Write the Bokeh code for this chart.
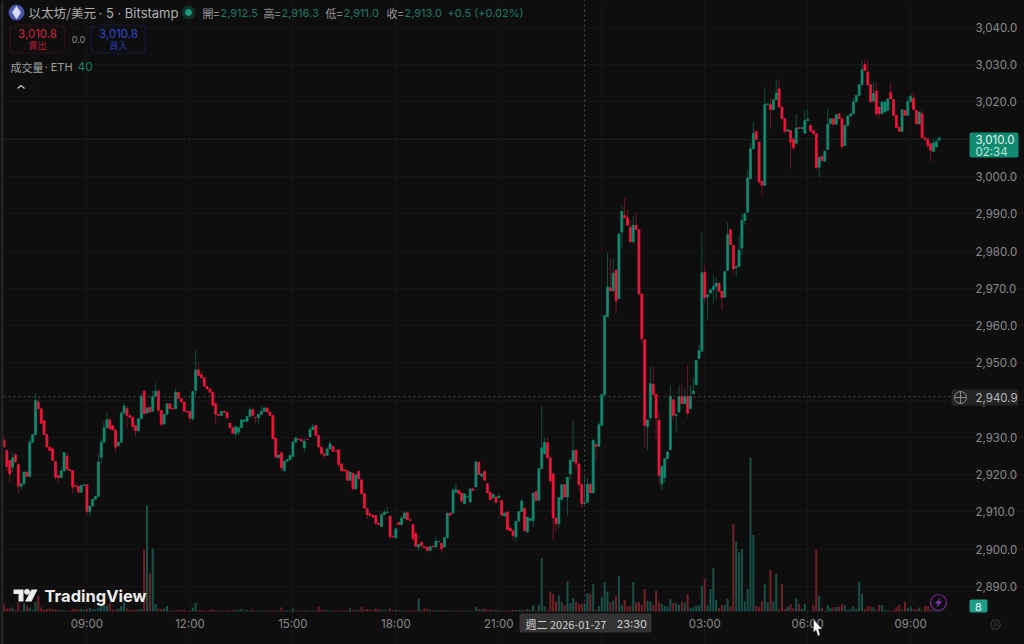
from bokeh.plotting import figure
from bokeh.embed import file_html
from bokeh.resources import INLINE
from bokeh.models import (ColumnDataSource, Range1d, FixedTicker, NumeralTickFormatter, Label,
                          BoxAnnotation, PolyAnnotation)

opens = [2929.2,2926.5,2923.8,2922.0,2925.3,2922.7,2916.9,2917.6,2920.7,2919.5,2928.7,2930.7,2939.5,2937.7,2934.5,2930.7,
2927.4,2926.9,2923.5,2919.8,2919.2,2921.0,2925.0,2921.4,2921.1,2917.1,2916.9,2915.3,2917.1,2917.3,2910.1,2911.6,
2913.4,2914.2,2924.7,2928.7,2932.6,2934.7,2933.2,2932.0,2927.8,2928.7,2936.5,2937.7,2935.9,2935.4,2933.2,2931.7,
2935.0,2942.4,2936.5,2938.1,2937.0,2941.0,2942.4,2937.2,2933.6,2936.2,2939.0,2937.8,2937.7,2942.1,2940.4,2939.5,
2937.0,2937.0,2935.0,2942.6,2948.1,2946.8,2946.0,2943.7,2943.0,2942.1,2939.0,2936.2,2935.9,2937.0,2936.7,2933.8,
2932.6,2931.0,2931.4,2932.6,2934.3,2934.3,2935.6,2937.5,2935.4,2935.3,2936.2,2937.0,2937.9,2936.8,2935.9,2929.8,
2924.5,2925.9,2921.1,2923.6,2924.0,2924.9,2928.7,2929.6,2929.4,2927.2,2929.5,2930.1,2932.1,2933.2,2930.5,2927.4,
2925.6,2925.2,2926.9,2927.6,2926.4,2926.7,2922.9,2921.3,2921.1,2918.5,2920.4,2916.2,2920.9,2918.6,2914.9,2910.9,
2909.5,2909.1,2909.0,2907.0,2906.1,2909.3,2909.8,2908.9,2903.5,2903.0,2907.2,2906.6,2908.3,2909.8,2907.9,2906.6,
2904.3,2900.6,2901.9,2900.7,2900.6,2899.7,2900.8,2900.6,2902.0,2901.6,2900.6,2903.1,2909.7,2909.7,2915.3,2915.8,
2915.1,2912.2,2914.0,2912.7,2916.2,2916.7,2923.4,2919.6,2920.9,2917.6,2915.3,2913.8,2914.0,2913.8,2913.1,2908.9,
2910.0,2905.7,2904.9,2903.3,2907.5,2910.1,2911.0,2904.6,2907.7,2907.7,2915.5,2913.1,2921.6,2925.6,2928.6,2924.5,
2920.2,2908.4,2906.8,2913.3,2917.3,2914.0,2920.2,2923.6,2926.5,2922.9,2917.4,2912.2,2912.6,2917.4,2915.1,2928.1,
2927.6,2933.2,2941.5,2962.4,2970.1,2969.3,2974.8,2967.2,2985.1,2989.5,2988.9,2986.4,2982.4,2986.9,2985.7,2968.5,
2956.2,2932.8,2935.3,2944.2,2941.5,2934.6,2917.6,2919.2,2924.3,2926.7,2940.1,2935.9,2936.8,2941.0,2939.0,2941.0,
2937.7,2941.7,2944.1,2951.1,2953.1,2974.2,2967.7,2968.7,2969.6,2970.5,2971.4,2969.2,2967.6,2974.8,2985.7,2981.5,
2975.5,2975.9,2980.8,2988.2,2990.4,2999.4,3007.4,3012.1,3009.2,2998.7,2997.6,3019.3,3019.3,3017.9,3020.6,3023.5,
3018.6,3015.5,3012.1,3012.3,3010.1,3008.9,3013.1,3012.8,3011.6,3015.0,3013.7,3012.3,3011.5,3002.5,3005.4,3004.1,
3007.2,3014.1,3015.5,3014.0,3016.8,3015.5,3008.3,3013.7,3016.2,3016.8,3020.0,3021.7,3024.6,3030.0,3028.0,3024.6,
3020.2,3022.9,3018.6,3016.8,3017.3,3017.7,3022.6,3020.6,3016.4,3013.2,3012.1,3017.7,3016.4,3020.1,3021.0,3017.7,
3014.1,3016.8,3010.4,3010.1,3008.8,3006.7,3007.9,3009.7]

closes = [2927.4,2922.2,2920.2,2924.5,2923.4,2916.9,2917.6,2920.7,2919.5,2928.7,2930.7,2939.9,2937.7,2933.8,2930.7,2927.4,
2926.5,2923.8,2919.3,2919.2,2921.0,2925.9,2921.4,2921.1,2916.7,2916.9,2915.3,2917.1,2917.3,2910.1,2911.6,2913.4,
2914.2,2923.4,2928.7,2932.6,2934.8,2932.3,2932.0,2927.4,2928.7,2936.5,2938.4,2935.9,2935.4,2932.9,2931.7,2935.0,
2941.0,2936.3,2937.9,2936.8,2941.0,2942.4,2937.2,2933.5,2936.2,2939.0,2937.7,2937.6,2942.1,2940.4,2939.5,2937.0,
2936.8,2935.2,2942.3,2948.1,2946.6,2946.0,2943.7,2943.0,2942.1,2938.6,2936.2,2935.9,2937.0,2936.7,2935.2,2932.6,
2931.1,2932.9,2932.6,2934.7,2934.7,2935.6,2937.4,2935.9,2935.3,2936.2,2937.0,2937.9,2936.8,2935.9,2929.6,2924.7,
2925.3,2921.8,2923.6,2924.0,2925.2,2928.7,2929.9,2929.4,2929.0,2929.0,2929.4,2932.1,2932.8,2930.5,2927.4,2925.6,
2925.2,2926.9,2928.3,2926.3,2926.3,2922.7,2921.0,2921.0,2918.5,2920.7,2916.2,2920.0,2918.9,2914.9,2911.0,2909.2,
2909.1,2908.6,2907.0,2906.6,2909.3,2909.9,2909.9,2903.3,2903.3,2905.5,2906.6,2908.3,2909.7,2907.9,2907.7,2902.8,
2900.8,2901.3,2901.0,2900.4,2899.7,2900.7,2900.6,2902.1,2902.1,2900.1,2903.1,2909.7,2909.1,2915.8,2916.0,2914.9,
2912.9,2914.9,2914.1,2916.2,2915.8,2923.4,2920.0,2920.2,2918.5,2915.1,2913.3,2914.7,2912.6,2914.2,2909.1,2909.7,
2905.2,2904.9,2903.7,2907.5,2910.1,2912.9,2905.0,2908.6,2908.2,2915.1,2913.1,2921.6,2927.2,2928.6,2924.5,2918.3,
2908.4,2906.8,2913.8,2917.3,2914.0,2919.3,2923.8,2926.5,2923.1,2917.4,2912.2,2912.4,2917.4,2915.1,2929.2,2927.6,
2933.4,2941.5,2962.7,2970.3,2969.3,2974.1,2966.6,2984.6,2990.6,2988.9,2986.9,2982.4,2986.9,2985.7,2968.5,2956.5,
2933.2,2934.7,2944.4,2941.5,2935.2,2919.8,2922.2,2924.3,2926.1,2941.0,2935.9,2936.2,2941.0,2939.0,2941.0,2936.5,
2941.0,2942.4,2950.6,2953.3,2974.2,2967.5,2968.3,2969.6,2970.5,2971.4,2969.2,2967.5,2974.5,2984.4,2981.7,2975.2,
2975.9,2980.2,2988.2,2990.0,2999.6,3007.4,3011.5,3009.8,2998.5,2997.6,3019.3,3019.5,3017.9,3020.6,3022.4,3018.6,
3015.5,3012.1,3012.6,3009.2,3007.7,3013.0,3012.8,3013.1,3015.0,3015.3,3012.1,3011.5,3002.3,3005.2,3004.3,3006.8,
3014.0,3015.5,3014.0,3016.6,3015.5,3008.0,3013.7,3016.2,3016.8,3020.0,3021.7,3024.6,3028.6,3028.4,3024.6,3020.0,
3022.2,3016.8,3016.8,3020.0,3020.0,3020.8,3020.8,3016.4,3013.1,3012.1,3017.9,3016.4,3020.1,3021.5,3017.9,3014.1,
3017.3,3010.4,3009.8,3008.3,3007.0,3009.0,3009.4,3010.3]

# Only the wicks that can be told apart on the picture
wick_highs = {0:2930.5,3:2926.0,4:2926.0,5:2923.2,9:2929.5,11:2941.7,12:2940.7,17:2927.5,20:2922.0,21:2926.2,22:2926.0,
33:2925.5,34:2929.5,35:2934.5,36:2936.5,37:2935.5,41:2937.0,42:2939.3,43:2938.5,48:2941.7,49:2942.8,52:2942.5,53:2944.6,
54:2943.0,60:2943.0,67:2953.3,68:2950.2,69:2947.8,74:2939.5,85:2935.9,86:2938.2,90:2938.4,98:2924.0,101:2929.0,105:2929.9,
107:2933.0,108:2933.6,110:2928.0,113:2927.4,114:2928.9,127:2911.2,132:2909.8,133:2910.6,134:2911.3,139:2909.0,140:2910.2,
151:2903.6,157:2916.6,158:2917.6,165:2923.8,173:2915.0,181:2913.5,188:2938.4,189:2930.0,190:2929.9,191:2925.0,198:2924.5,
199:2934.5,200:2927.0,203:2919.5,204:2919.0,205:2918.0,206:2929.6,208:2934.0,210:2946.2,211:2979.5,212:2977.9,213:2977.9,
214:2975.2,216:2992.2,217:2994.3,218:2991.0,219:2988.0,220:2989.3,221:2990.2,226:2948.9,227:2949.0,229:2936.5,233:2944.0,
236:2944.0,237:2944.2,238:2943.0,239:2949.3,240:2944.0,241:2946.0,243:2955.0,244:2985.1,245:2976.2,248:2973.5,249:2973.0,
253:2987.6,257:2984.0,258:2990.0,260:3001.8,261:3009.0,262:3014.6,266:3024.0,268:3021.0,270:3026.0,271:3026.0,277:3016.8,
280:3017.7,281:3018.0,288:3018.2,297:3021.0,300:3031.1,301:3031.3,302:3031.1,304:3025.5,305:3025.3,310:3025.3,316:3021.5,
317:3022.2,318:3022.4,321:3017.7,325:3010.2,326:3010.1,327:3010.7}

wick_lows = {1:2921.0,2:2918.0,3:2920.7,5:2914.9,6:2915.8,7:2917.0,18:2918.5,19:2918.0,24:2915.0,29:2909.1,30:2908.9,33:2914.0,
34:2923.0,39:2926.0,43:2932.3,45:2931.9,46:2930.3,55:2932.9,65:2934.0,66:2934.4,67:2941.0,74:2933.5,81:2929.9,82:2930.6,
88:2933.6,89:2933.6,97:2921.0,98:2920.7,105:2926.0,112:2924.5,117:2922.0,122:2915.8,127:2908.0,130:2906.5,135:2902.7,
143:2902.2,145:2899.6,146:2900.2,148:2899.0,153:2899.0,154:2902.5,160:2912.4,178:2902.4,179:2901.9,182:2904.6,183:2907.5,
185:2906.0,192:2902.5,193:2904.6,194:2905.5,197:2909.0,198:2918.7,200:2921.5,201:2915.6,202:2911.0,203:2912.1,207:2923.8,
209:2932.9,210:2941.0,214:2963.2,216:2981.0,222:2968.0,223:2955.1,224:2927.4,225:2926.7,226:2934.5,228:2929.6,229:2917.1,
230:2915.8,231:2918.0,234:2934.5,235:2931.2,239:2935.4,245:2966.0,246:2961.6,248:2966.0,249:2967.0,251:2964.1,255:2973.7,
256:2973.0,258:2979.0,259:2987.0,264:2998.0,265:2994.9,268:3012.8,272:3015.0,273:3011.4,275:3002.0,276:3007.0,284:3002.0,
285:2999.8,286:3003.9,293:3007.4,303:3019.9,305:3016.0,306:3015.5,323:3007.5,324:3004.0,325:3006.5}

volumes = [40,15,15,20,7,45,5,40,27,20,7,48,77,20,10,13,15,12,10,8,8,6,5,4,12,14,10,13,10,12,18,10,12,20,30,30,30,45,10,10,
15,27,48,15,10,8,8,10,12,310,533,190,315,37,15,13,15,27,5,5,3,7,8,8,4,5,20,43,8,7,6,4,8,10,6,6,5,3,6,4,5,8,8,12,5,8,5,10,5,7,
4,5,4,6,6,5,4,20,5,6,5,15,4,5,4,5,7,4,5,6,23,10,8,6,7,5,6,4,5,4,6,17,6,8,7,23,10,12,8,7,14,10,8,6,5,14,5,8,7,6,4,5,5,8,6,63,
8,15,12,8,7,6,5,6,7,6,4,5,3,4,5,4,3,4,3,23,12,10,14,10,8,5,10,6,6,5,7,6,8,8,8,8,8,12,8,33,5,33,267,25,7,100,88,50,80,47,33,150,
42,67,47,38,38,40,92,88,137,8,28,72,147,100,47,55,78,178,33,58,25,28,148,47,47,33,112,53,50,33,103,45,38,28,25,63,42,42,33,50,
45,87,17,22,30,30,128,162,30,113,217,58,17,33,33,63,25,438,350,295,312,50,113,768,383,28,22,50,137,45,208,50,188,12,137,13,25,
37,17,67,38,13,38,3,3,33,308,78,17,3,33,17,22,22,25,38,33,8,12,25,12,150,87,12,28,25,22,8,33,33,8,5,5,8,22,33,8,47,17,25,12,12,
20,5,28,28,12,5,3,8]

price_ticks = [2890,2900,2910,2920,2930,2940,2950,2960,2970,2980,2990,3000,3010,3020,3030,3040]
time_ticks = [29,65,101,137,173,209,245,281,317]
time_labels = ["09:00","12:00","15:00","18:00","21:00","00:00","03:00","06:00","09:00"]
crosshair_bar = 203
crosshair_price = 2940.9
last_price = 3010.0

BG = "#0e0e0e"
UP, DOWN = "#118c70", "#f0163c"
UP_W, DOWN_W = "#0f4f43", "#6e1526"
UP_V, DOWN_V = "#1a4f47", "#6e2127"
GRID = "#151515"
FONT = "Inter"
CJK = "Noto Sans CJK TC"
n = min(len(opens), len(closes), len(volumes))
idx = list(range(n))
up = [closes[i] >= opens[i] for i in idx]
src = ColumnDataSource(dict(
    i=idx, o=opens[:n], c=closes[:n], v=volumes[:n],
    h=[max(opens[i], closes[i], wick_highs.get(i, 0)) for i in idx],
    l=[min(opens[i], closes[i], wick_lows.get(i, 99999)) for i in idx],
    col=[UP if u else DOWN for u in up],
    wcol=[UP_W if u else DOWN_W for u in up],
    vcol=[UP_V if u else DOWN_V for u in up],
))

# The plot area fills the page; both axes sit at a fixed place inside it.
X_LEFT, X_RIGHT = -0.175, 335.1
Y_BOTTOM, Y_TOP = 2883.3, 3047.2
p = figure(frame_width=1024, frame_height=644, output_backend="svg", toolbar_location=None,
           x_range=Range1d(-1.224, 356.8), y_range=Range1d(2874.44, Y_TOP),
           y_axis_location="right", background_fill_color=BG, border_fill_color=BG,
           min_border=0, min_border_left=0, min_border_top=0, min_border_right=0, min_border_bottom=0)
p.outline_line_color = None
p.extra_y_ranges = {"vol": Range1d(-165, 3055), "py": Range1d(644, 0)}
p.extra_x_ranges = {"px": Range1d(0, 1024)}

for a, st in ((p.yaxis[0], 13), (p.xaxis[0], 6)):
    a.axis_line_color = None
    a.major_tick_line_color = None
    a.minor_tick_line_color = None
    a.major_tick_out = 0
    a.major_tick_in = 0
    a.minor_tick_out = 0
    a.major_label_text_color = "#8a8a8a"
    a.major_label_text_font = FONT
    a.major_label_text_font_size = "11.5px"
    a.major_label_standoff = st
p.yaxis[0].ticker = FixedTicker(ticks=price_ticks)
p.yaxis[0].formatter = NumeralTickFormatter(format="0,0.0")
p.yaxis[0].fixed_location = X_RIGHT
p.xaxis[0].ticker = FixedTicker(ticks=time_ticks)
p.xaxis[0].major_label_overrides = dict(zip(time_ticks, time_labels))
p.xaxis[0].fixed_location = Y_BOTTOM
p.xgrid.ticker = FixedTicker(ticks=time_ticks)
p.ygrid.ticker = FixedTicker(ticks=price_ticks)
p.xgrid.grid_line_color = GRID
p.ygrid.grid_line_color = GRID
p.xgrid.bounds = (Y_BOTTOM, Y_TOP)
p.ygrid.bounds = (X_LEFT, X_RIGHT)

p.vbar(x="i", top="v", bottom=0, width=0.72, source=src, y_range_name="vol",
       fill_color="vcol", line_color=None)
p.segment(x0="i", x1="i", y0="l", y1="h", source=src, line_color="wcol", line_width=1)
p.vbar(x="i", top="o", bottom="c", width=0.7, source=src, fill_color="col", line_color="col", line_width=0.7)

p.line([X_LEFT, X_RIGHT + 2], [last_price, last_price], line_color="#123d33", line_width=1, line_dash="1 2")
p.line([crosshair_bar, crosshair_bar], [Y_BOTTOM, Y_TOP], line_color="#4d4d4d", line_width=1, line_dash="2 3")
p.line([X_LEFT, X_RIGHT], [crosshair_price, crosshair_price], line_color="#4d4d4d", line_width=1, line_dash="2 3")


def label(x, y, text, color, size, font=FONT, align="left", weight="normal"):
    p.add_layout(Label(x=x, y=y, text=text, text_color=color, text_font=font,
                       text_font_size=f"{size}px", text_align=align, text_baseline="middle",
                       text_font_style=weight, x_units="canvas", y_units="canvas"))


def box(left, top, right, bottom, fill=None, line=None, radius=0, width=1):
    p.add_layout(BoxAnnotation(left=left, right=right, top=top, bottom=bottom,
                               left_units="canvas", right_units="canvas", top_units="canvas", bottom_units="canvas",
                               fill_color=fill, fill_alpha=1 if fill else 0,
                               line_color=line, line_width=width, border_radius=radius))


def poly(xs, ys, fill=None, line=None, width=1):
    p.add_layout(PolyAnnotation(xs=xs, ys=ys, xs_units="canvas", ys_units="canvas", fill_color=fill,
                                fill_alpha=1 if fill else 0, line_color=line, line_width=width))


# left strip
box(0, 0, 3, 644, fill="#232323")

# header
p.scatter([16], [12], size=15, color="#4a55ae", x_range_name="px", y_range_name="py")
p.patch([16, 20, 16, 12], [6, 12, 18, 12], color="#d8ddf5", x_range_name="px", y_range_name="py")
label(28, 12, "以太坊/美元", "#b0b0b0", 12.5, CJK)
label(98, 12, " · 5 · Bitstamp", "#b0b0b0", 13, FONT)
p.scatter([188], [12], size=13, color="#10302a", x_range_name="px", y_range_name="py")
p.scatter([188], [12], size=6, color="#1a9c7c", x_range_name="px", y_range_name="py")
GT = "#1b7a66"
for x, t, c in [(202, "開=", "#9a9a9a"), (220, "2,912.5", GT), (263, "高=", "#9a9a9a"), (281, "2,916.3", GT),
                (325, "低=", "#9a9a9a"), (343, "2,911.0", GT), (386, "收=", "#9a9a9a"), (404, "2,913.0", GT),
                (447, "+0.5 (+0.02%)", GT)]:
    label(x, 12, t, c, 11, CJK if "=" in t else FONT)

box(9.5, 24.5, 64, 52.5, line="#8a1a30", radius=5, width=1.2)
box(90.5, 24.5, 145, 52.5, line="#1e36a8", radius=5, width=1.2)
label(37, 33, "3,010.8", "#d81e3f", 11.5, FONT, "center")
label(37, 45, "賣出", "#b01c38", 9, CJK, "center")
label(78, 39, "0.0", "#8a8a8a", 9, FONT, "center")
label(118, 33, "3,010.8", "#2a48d8", 11.5, FONT, "center")
label(118, 45, "買入", "#2338b4", 9, CJK, "center")
label(10, 66, "成交量", "#a0a0a0", 11, CJK)
label(44, 66, " · ETH", "#a0a0a0", 11, FONT)
label(77, 66, "40", GT, 12, FONT)
box(9.5, 78.5, 32, 96, line="#1e1e1e", radius=3)
p.line([17, 20.5, 24], [88, 85, 88], line_color="#c8c8c8", line_width=1.2, x_range_name="px", y_range_name="py")

# price tags
box(969, 132, 1018, 157, fill="#128a70", radius=2)
label(975, 139, "3,010.0", "#e4f2ee", 11.5)
label(975, 151, "02:34", "#bfe3da", 11.5)
box(951, 389, 1018, 405, fill="#242424", radius=2)
p.scatter([960], [397], size=12, marker="circle_cross", fill_color="#242424", line_color="#8a8a8a",
          x_range_name="px", y_range_name="py", level="overlay")
label(975, 397, "2,940.9", "#b8b8b8", 11.5)
box(969, 599, 987, 612, fill="#1f9c87", radius=2)
label(978, 606, "8", "#e8f5f2", 11, FONT, "center")

# crosshair time
box(519, 613, 651, 632, fill="#333333", radius=2)
label(525, 623, "週二 2026-01-27", "#cfcfcf", 11, CJK)
label(616, 623, "23:30", "#cfcfcf", 11, FONT)

# watermark
poly([13, 23, 23, 18, 18, 13], [589, 589, 601, 601, 593.5, 593.5], fill="#ececec")
p.scatter([26.5], [591.3], size=5, color="#ececec", x_range_name="px", y_range_name="py")
poly([31, 37, 31, 24.5], [589, 589, 601, 601], fill="#ececec")
label(44, 595, "TradingView", "#ececec", 16.5, FONT, "left", "bold")

# lightning badge
p.scatter([938], [602], size=16, fill_color=BG, line_color="#7d2a9e", line_width=1.2,
          x_range_name="px", y_range_name="py")
poly([940, 934.5, 937.5, 936, 941.5, 938.5], [597, 603, 603, 607, 601, 601], fill="#8a35ad")

# settings icon
poly([990, 992.5, 997.5, 1000, 997.5, 992.5], [624, 619.5, 619.5, 624, 628.5, 628.5], line="#9a9a9a", width=1.2)
poly([993.5, 995, 996.5, 996.5, 995, 993.5], [623, 622, 623, 625, 626, 625], fill=None, line="#9a9a9a", width=1)

# mouse pointer
poly([813, 813, 815.5, 817.5, 819.5, 818, 821.5], [619, 632, 629.5, 635.5, 634.5, 628.5, 628.5],
     fill="#f2f2f2", line="#111111", width=1)

html = file_html(p, INLINE)
html = html.replace("<head>", "<head><style>html,body{margin:0;padding:0;background:#0e0e0e;overflow:hidden}</style>", 1)
open("out.html", "w").write(html)
